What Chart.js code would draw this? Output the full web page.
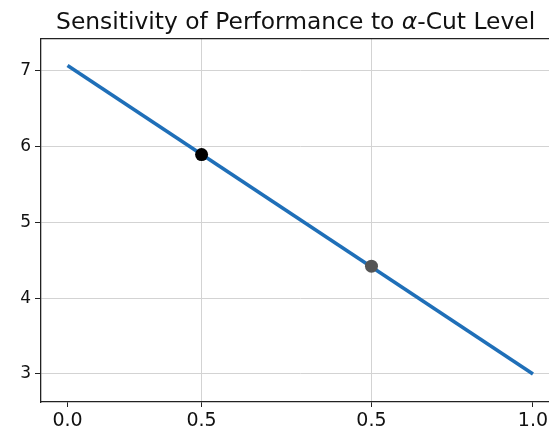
<!DOCTYPE html>
<html>
<head>
<meta charset="utf-8">
<script src="https://cdn.jsdelivr.net/npm/chart.js@4"></script>
<style>
  html, body { margin: 0; padding: 0; background: #fff; overflow: hidden; }
  #wrap { width: 549px; height: 433px; overflow: hidden; position: relative; }
  #c { position: absolute; left: 0; top: 0; }
</style>
</head>
<body>
<div id="wrap"><canvas id="c" width="566" height="433"></canvas></div>
<script>
// ---- data ----
const titleBefore = 'Sensitivity of Performance to ';
const titleSymbol = 'α';
const titleAfter = '-Cut Level';

const lineX = [0.0, 1.0];
const lineY = [7.07, 3.0];

const markerX = [0.288, 0.653];
const markerY = [5.895, 4.422];
const markerColors = ['#000000', '#555555'];

const xTickValues = [0.0, 0.288, 0.653, 1.0];
const xTickLabels = ['0.0', '0.5', '0.5', '1.0'];
const xGridShown = [false, true, true, false];
const yTickValues = [3, 4, 5, 6, 7];
const yTickLabels = ['3', '4', '5', '6', '7'];

// ---- chart ----
const FONT = "'DejaVu Sans', sans-serif";

const titlePlugin = {
  id: 'mplTitle',
  afterDraw(chart) {
    const ctx = chart.ctx;
    const xs = chart.scales.x;
    const cx = xs.getPixelForValue(0.49);
    const y = 29;
    ctx.save();
    ctx.fillStyle = '#111';
    ctx.textBaseline = 'alphabetic';
    const f1 = "23.4px " + FONT;
    const f2 = "italic 23.4px " + FONT;
    ctx.font = f1;
    const w1 = ctx.measureText(titleBefore).width;
    const w3 = ctx.measureText(titleAfter).width;
    ctx.font = f2;
    const w2 = ctx.measureText(titleSymbol).width;
    let x = cx - (w1 + w2 + w3) / 2;
    ctx.textAlign = 'left';
    ctx.font = f1; ctx.fillText(titleBefore, x, y); x += w1;
    ctx.font = f2; ctx.fillText(titleSymbol, x, y); x += w2;
    ctx.font = f1; ctx.fillText(titleAfter, x, y);
    ctx.restore();
  }
};

const datasets = [
  {
    data: lineX.map((x, i) => ({ x, y: lineY[i] })),
    borderColor: '#1f6fb8',
    borderWidth: 3.6,
    pointRadius: 0,
    showLine: true,
    fill: false,
    order: 2
  },
  {
    data: markerX.map((x, i) => ({ x, y: markerY[i] })),
    showLine: false,
    pointRadius: 6.5,
    pointBackgroundColor: markerColors,
    pointBorderColor: markerColors,
    pointBorderWidth: 0,
    order: 1
  }
];

new Chart(document.getElementById('c'), {
  type: 'scatter',
  data: { datasets },
  options: {
    responsive: false,
    animation: false,
    events: [],
    layout: { padding: { top: 39, left: 0, right: 0, bottom: 0 } },
    plugins: { legend: { display: false }, title: { display: false }, tooltip: { enabled: false } },
    scales: {
      x: {
        type: 'linear',
        position: 'bottom',
        min: -0.057,
        max: 1.057,
        afterBuildTicks(axis) { axis.ticks = xTickValues.map(v => ({ value: v })); },
        afterFit(scale) { scale.height = 31; },
        ticks: {
          autoSkip: false,
          maxRotation: 0,
          padding: 3,
          color: '#111',
          font: { family: FONT, size: 19 },
          callback: (v, i) => xTickLabels[i]
        },
        grid: {
          color: (c) => (xGridShown[c.index] ? '#d3d3d3' : 'rgba(0,0,0,0)'),
          lineWidth: 1, tickColor: '#222', tickLength: 5
        },
        border: { display: true, color: '#222', width: 1.3 }
      },
      x2: {
        type: 'linear',
        position: 'top',
        min: -0.057,
        max: 1.057,
        afterFit(scale) { scale.height = 0; },
        ticks: { display: false },
        grid: { display: false, drawTicks: false },
        border: { display: true, color: '#222', width: 1.3 }
      },
      y: {
        type: 'linear',
        min: 2.63,
        max: 7.42,
        afterBuildTicks(axis) { axis.ticks = yTickValues.map(v => ({ value: v })); },
        afterFit(scale) { scale.width = 41; },
        ticks: {
          autoSkip: false,
          padding: 4,
          color: '#111',
          font: { family: FONT, size: 17 },
          callback: (v, i) => yTickLabels[i]
        },
        grid: { color: '#d3d3d3', lineWidth: 1, tickColor: '#222', tickLength: 6 },
        border: { display: true, color: '#222', width: 1.3 }
      }
    }
  },
  plugins: [titlePlugin]
});
</script>
</body>
</html>
